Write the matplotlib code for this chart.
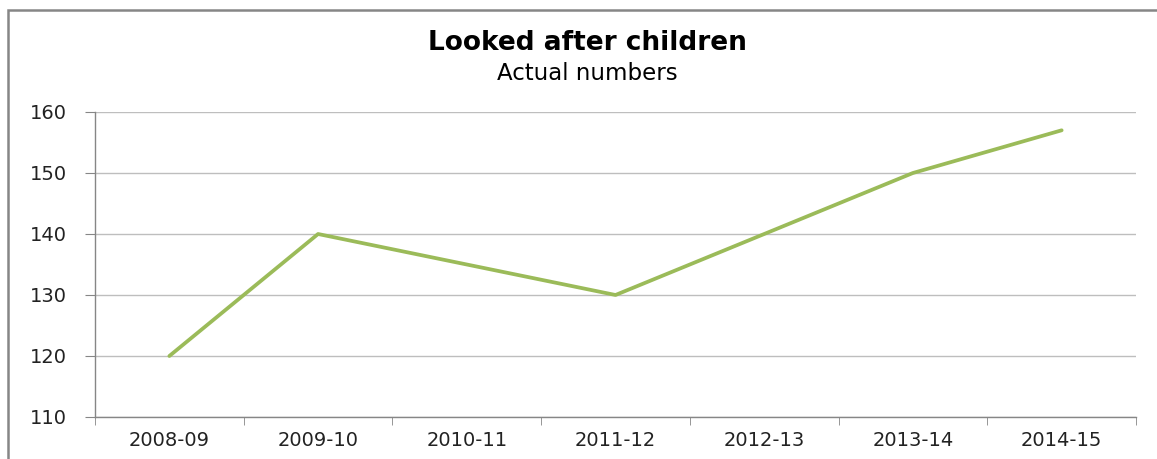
import matplotlib.pyplot as plt
from matplotlib.patches import Rectangle

plt.rcParams['font.family'] = ['DejaVu Sans']

years = ['2008-09', '2009-10', '2010-11', '2011-12', '2012-13', '2013-14', '2014-15']
children = [120, 140, 135, 130, 140, 150, 157]

fig = plt.figure(figsize=(11.57, 4.59), dpi=100)
ax = fig.add_axes([95 / 1157, 1 - 417 / 459, (1136 - 95) / 1157, (417 - 112) / 459])

# chart frame like Excel
fig.patches.append(Rectangle((8 / 1157, -0.1), 1.2, 1.1 - 10 / 459, transform=fig.transFigure,
                             fill=False, edgecolor='#868686', linewidth=1.8))

x = list(range(len(years)))
ax.plot(x, children, color='#9BBB59', linewidth=2.7, solid_capstyle='round')

ax.set_xlim(-0.5, len(years) - 0.5)
ax.set_ylim(110, 160)
ax.set_yticks(range(110, 161, 10))
ax.set_xticks(x)
ax.set_xticklabels(years)
ax.set_xticks([i - 0.5 for i in range(len(years) + 1)], minor=True)

ax.grid(axis='y', color='#BEBEBE', linewidth=1)
ax.set_axisbelow(True)
for side in ['top', 'right']:
    ax.spines[side].set_visible(False)
for side in ['left', 'bottom']:
    ax.spines[side].set_color('#868686')
    ax.spines[side].set_linewidth(1)

ax.tick_params(axis='y', length=7, color='#868686', labelsize=14, pad=13, labelcolor='#222222')
ax.tick_params(axis='x', which='major', length=0, labelsize=14, pad=10, labelcolor='#222222')
ax.tick_params(axis='x', which='minor', length=6, color='#868686')

fig.text(587 / 1157, 1 - 43 / 459, 'Looked after children', ha='center', va='center',
         fontsize=19, fontweight='bold', color='black')
fig.text(587 / 1157, 1 - 73 / 459, 'Actual numbers', ha='center', va='center',
         fontsize=16.5, color='black')

fig.savefig('out.png', dpi=100)
